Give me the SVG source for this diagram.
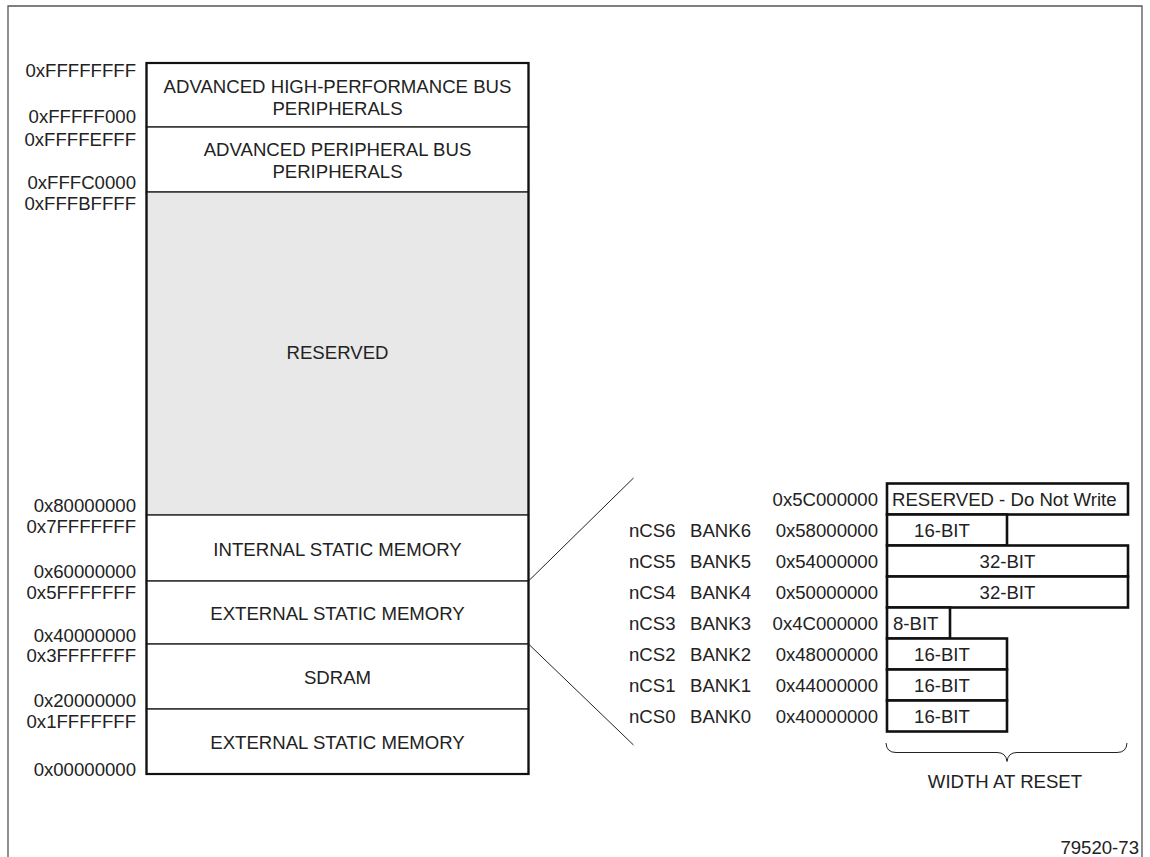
<svg xmlns="http://www.w3.org/2000/svg" width="1150" height="857" viewBox="0 0 1150 857">
<style>
  text { font-family: "Liberation Sans", Arial, sans-serif; font-size: 18.6px; fill: #222; }
  .addr { text-anchor: end; }
  .mid { text-anchor: middle; }
  .seg { fill: #ffffff; stroke: #333; stroke-width: 1.5; }
  .res { fill: #e8e8e8; stroke: #333; stroke-width: 1.5; }
  .outer { fill: none; stroke: #111; stroke-width: 2.2; }
  .bank { fill: #ffffff; stroke: #111; stroke-width: 2.6; }
  .conn { fill: none; stroke: #222; stroke-width: 1; }
  .frame { fill: none; stroke: #555; stroke-width: 1.3; }
</style>
<rect width="1150" height="857" fill="#ffffff"/>
<g id="frame">
  <path class="frame" d="M8,857 V6 H1142 V857"/>
</g>

<g id="address-labels">
  <text class="addr" x="136" y="77">0xFFFFFFFF</text>
  <text class="addr" x="136" y="122.5">0xFFFFF000</text>
  <text class="addr" x="136" y="146">0xFFFFEFFF</text>
  <text class="addr" x="136" y="189">0xFFFC0000</text>
  <text class="addr" x="136" y="210">0xFFFBFFFF</text>
  <text class="addr" x="136" y="512">0x80000000</text>
  <text class="addr" x="136" y="533">0x7FFFFFFF</text>
  <text class="addr" x="136" y="578">0x60000000</text>
  <text class="addr" x="136" y="599">0x5FFFFFFF</text>
  <text class="addr" x="136" y="642">0x40000000</text>
  <text class="addr" x="136" y="662">0x3FFFFFFF</text>
  <text class="addr" x="136" y="707">0x20000000</text>
  <text class="addr" x="136" y="728">0x1FFFFFFF</text>
  <text class="addr" x="136" y="776">0x00000000</text>
</g>

<g id="ahb">
  <rect class="seg" x="146.5" y="63" width="382" height="64"/>
  <text class="mid" x="337.5" y="93">ADVANCED HIGH-PERFORMANCE BUS</text>
  <text class="mid" x="337.5" y="115">PERIPHERALS</text>
</g>
<g id="apb">
  <rect class="seg" x="146.5" y="127" width="382" height="65"/>
  <text class="mid" x="337.5" y="156">ADVANCED PERIPHERAL BUS</text>
  <text class="mid" x="337.5" y="178">PERIPHERALS</text>
</g>
<g id="reserved">
  <rect class="res" x="146.5" y="192" width="382" height="323"/>
  <text class="mid" x="337.5" y="359">RESERVED</text>
</g>
<g id="internal-static">
  <rect class="seg" x="146.5" y="515" width="382" height="66"/>
  <text class="mid" x="337.5" y="556">INTERNAL STATIC MEMORY</text>
</g>
<g id="external-static-hi">
  <rect class="seg" x="146.5" y="581" width="382" height="63"/>
  <text class="mid" x="337.5" y="620">EXTERNAL STATIC MEMORY</text>
</g>
<g id="sdram">
  <rect class="seg" x="146.5" y="644" width="382" height="65"/>
  <text class="mid" x="337.5" y="684">SDRAM</text>
</g>
<g id="external-static-lo">
  <rect class="seg" x="146.5" y="709" width="382" height="65"/>
  <text class="mid" x="337.5" y="749">EXTERNAL STATIC MEMORY</text>
</g>
<rect class="outer" x="146.5" y="63" width="382" height="711"/>

<g id="connectors">
  <line class="conn" x1="528.5" y1="581" x2="633.5" y2="478"/>
  <line class="conn" x1="528.5" y1="644" x2="633.5" y2="745"/>
</g>

<g id="bank-reserved">
  <rect class="bank" x="887" y="483.5" width="241" height="31"/>
  <text x="892" y="506">RESERVED - Do Not Write</text>
  <text class="addr" x="878" y="506">0x5C000000</text>
</g>
<g id="bank6">
  <rect class="bank" x="887" y="514.5" width="120" height="31"/>
  <text class="mid" x="942" y="537">16-BIT</text>
  <text x="629" y="537">nCS6</text>
  <text x="690" y="537">BANK6</text>
  <text class="addr" x="878" y="537">0x58000000</text>
</g>
<g id="bank5">
  <rect class="bank" x="887" y="545.5" width="241" height="31"/>
  <text class="mid" x="1007.5" y="568">32-BIT</text>
  <text x="629" y="568">nCS5</text>
  <text x="690" y="568">BANK5</text>
  <text class="addr" x="878" y="568">0x54000000</text>
</g>
<g id="bank4">
  <rect class="bank" x="887" y="576.5" width="241" height="31"/>
  <text class="mid" x="1007.5" y="599">32-BIT</text>
  <text x="629" y="599">nCS4</text>
  <text x="690" y="599">BANK4</text>
  <text class="addr" x="878" y="599">0x50000000</text>
</g>
<g id="bank3">
  <rect class="bank" x="887" y="607.5" width="63" height="31"/>
  <text x="893" y="630">8-BIT</text>
  <text x="629" y="630">nCS3</text>
  <text x="690" y="630">BANK3</text>
  <text class="addr" x="878" y="630">0x4C000000</text>
</g>
<g id="bank2">
  <rect class="bank" x="887" y="638.5" width="120" height="31"/>
  <text class="mid" x="942" y="661">16-BIT</text>
  <text x="629" y="661">nCS2</text>
  <text x="690" y="661">BANK2</text>
  <text class="addr" x="878" y="661">0x48000000</text>
</g>
<g id="bank1">
  <rect class="bank" x="887" y="669.5" width="120" height="31"/>
  <text class="mid" x="942" y="692">16-BIT</text>
  <text x="629" y="692">nCS1</text>
  <text x="690" y="692">BANK1</text>
  <text class="addr" x="878" y="692">0x44000000</text>
</g>
<g id="bank0">
  <rect class="bank" x="887" y="700.5" width="120" height="31"/>
  <text class="mid" x="942" y="723">16-BIT</text>
  <text x="629" y="723">nCS0</text>
  <text x="690" y="723">BANK0</text>
  <text class="addr" x="878" y="723">0x40000000</text>
</g>

<g id="width-brace">
  <path class="conn" d="M886,743 Q886.5,752.5 896,752.5 H997 Q1006,752.5 1007,761.5 Q1008,752.5 1017,752.5 H1117 Q1126.5,752.5 1127,743"/>
  <text class="mid" x="1005" y="788">WIDTH AT RESET</text>
</g>
<g id="figure-number">
  <text class="addr" x="1139" y="854">79520-73</text>
</g>
</svg>
